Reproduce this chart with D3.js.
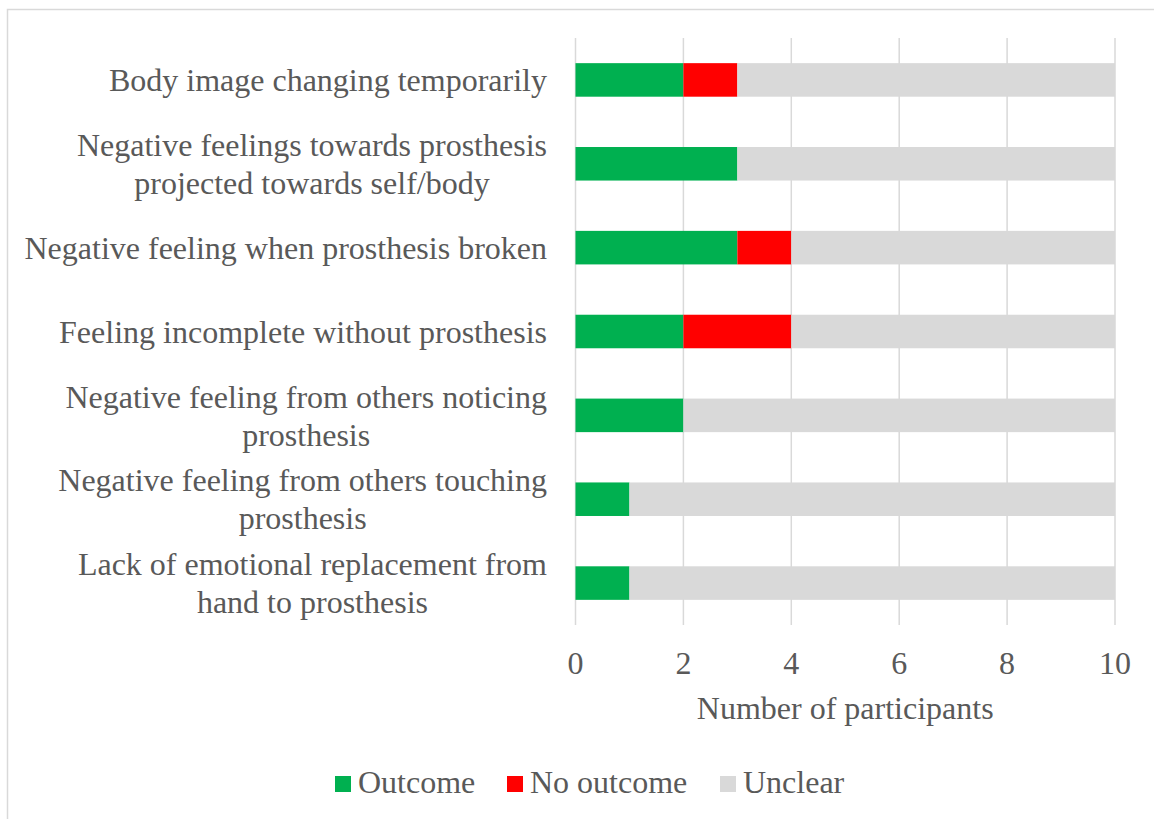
<!DOCTYPE html>
<html>
<head>
<meta charset="utf-8">
<script src="https://cdn.jsdelivr.net/npm/d3@7"></script>
<style>
  body { margin: 0; background: #fff; }
  svg text { font-family: "Liberation Serif", "Times New Roman", serif; fill: #595959; }
</style>
</head>
<body>
<div id="chart"></div>
<script>
// dữ liệu
const categories = [
    ["Body image changing temporarily"],
    ["Negative feelings towards prosthesis", "projected towards self/body"],
    ["Negative feeling when prosthesis broken"],
    ["Feeling incomplete without prosthesis"],
    ["Negative feeling from others noticing", "prosthesis"],
    ["Negative feeling from others touching", "prosthesis"],
    ["Lack of emotional replacement from", "hand to prosthesis"]
];
const outcome = [2, 3, 3, 2, 2, 1, 1];
const noOutcome = [1, 0, 1, 2, 0, 0, 0];
const unclear = [7, 7, 6, 6, 8, 9, 9];
const seriesNames = ["Outcome", "No outcome", "Unclear"];
const seriesColors = ["#00B050", "#FF0000", "#D9D9D9"];
const xTicks = [0, 2, 4, 6, 8, 10];

const W = 1154, H = 819;
const plot = { left: 575.5, right: 1115, top: 38, bottom: 625 };
const fontSize = 32;

const svg = d3.select("#chart").append("svg")
    .attr("width", W)
    .attr("height", H);

// khung viền
svg.append("rect")
    .attr("x", 7.5).attr("y", 9.5)
    .attr("width", W + 20).attr("height", H + 20)
    .attr("fill", "none")
    .attr("stroke", "#d9d9d9")
    .attr("stroke-width", 1.5);

const x = d3.scaleLinear().domain([0, 10]).range([plot.left, plot.right]);
const y = d3.scaleBand()
    .domain(d3.range(categories.length))
    .range([plot.top, plot.bottom])
    .paddingInner(0.6)
    .paddingOuter(0.3);

// lưới dọc
svg.append("g").selectAll("line")
    .data(xTicks)
    .enter().append("line")
    .attr("x1", d => x(d)).attr("x2", d => x(d))
    .attr("y1", plot.top).attr("y2", plot.bottom)
    .attr("stroke", "#d9d9d9")
    .attr("stroke-width", 1.5);

// xếp chồng
const rows = categories.map((c, i) => ({ i, Outcome: outcome[i], "No outcome": noOutcome[i], Unclear: unclear[i] }));
const stacked = d3.stack().keys(seriesNames)(rows);

svg.append("g").selectAll("g")
    .data(stacked)
    .enter().append("g")
    .attr("fill", (d, k) => seriesColors[k])
    .selectAll("rect")
    .data(d => d)
    .enter().append("rect")
    .attr("x", d => x(d[0]))
    .attr("y", d => y(d.data.i))
    .attr("width", d => x(d[1]) - x(d[0]))
    .attr("height", y.bandwidth());

// nhãn trục y
const labelRight = 547;
const lineH = 38;
categories.forEach((lines, i) => {
    const g = svg.append("g");
    const cy = y(i) + y.bandwidth() / 2;
    const texts = lines.map((t, j) => g.append("text")
        .attr("y", cy + (j - (lines.length - 1) / 2) * lineH)
        .attr("dy", "0.35em")
        .attr("text-anchor", "middle")
        .style("font-size", fontSize + "px")
        .text(t));
    const maxW = d3.max(texts, t => t.node().getComputedTextLength());
    texts.forEach(t => t.attr("x", labelRight - maxW / 2));
});

// nhãn trục x
svg.append("g").selectAll("text")
    .data(xTicks)
    .enter().append("text")
    .attr("x", d => x(d))
    .attr("y", 663)
    .attr("dy", "0.35em")
    .attr("text-anchor", "middle")
    .style("font-size", fontSize + "px")
    .text(d => d);

svg.append("text")
    .attr("x", (plot.left + plot.right) / 2)
    .attr("y", 707.5)
    .attr("dy", "0.35em")
    .attr("text-anchor", "middle")
    .style("font-size", fontSize + "px")
    .text("Number of participants");

// chú thích
const legendX = [335, 507, 720];
const legend = svg.append("g");
seriesNames.forEach((name, k) => {
    legend.append("rect")
        .attr("x", legendX[k]).attr("y", 776)
        .attr("width", 16).attr("height", 16)
        .attr("fill", seriesColors[k]);
    legend.append("text")
        .attr("x", legendX[k] + 23)
        .attr("y", 782)
        .attr("dy", "0.35em")
        .style("font-size", fontSize + "px")
        .text(name);
});
</script>
</body>
</html>
